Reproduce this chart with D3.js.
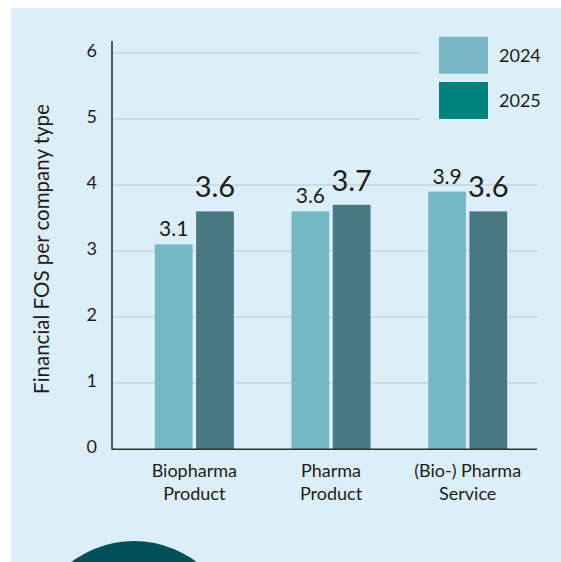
<!DOCTYPE html>
<html>
<head>
<meta charset="utf-8">
<script src="https://cdn.jsdelivr.net/npm/d3@7/dist/d3.min.js"></script>
<style>
  html, body { margin: 0; padding: 0; background: #ffffff; }
  svg { display: block; }
  text { font-family: Lato, "Source Sans Pro", "Noto Sans", sans-serif; fill: #1c1c1c; }
</style>
</head>
<body>
<svg id="chart" width="561" height="562"></svg>
<script>
// Company types (two-line labels) and yearly FOS values
const categories = [["Biopharma", "Product"], ["Pharma", "Product"], ["(Bio-) Pharma", "Service"]];
const years = ["2024", "2025"];
const values2024 = [3.1, 3.6, 3.9];
const values2025 = [3.6, 3.7, 3.6];
const yTicks = [0, 1, 2, 3, 4, 5, 6];
const yTitle = "Financial FOS per company type";

const colors = { "2024": "#76b7c5", "2025": "#497782" };
const legendColors = { "2024": "#78b8c6", "2025": "#00827f" };
const panelColor = "#dceff8";

const svg = d3.select("#chart");

// Background panel
svg.append("rect").attr("x", 11).attr("y", 8).attr("width", 550).attr("height", 554).attr("fill", panelColor);

// Decorative circle at the bottom
svg.append("circle").attr("cx", 134).attr("cy", 645).attr("r", 104).attr("fill", "#034f59");

const plotLeft = 112, plotRight = 537;
const y = d3.scaleLinear().domain([0, 6]).range([449, 53]);
const x0 = d3.scaleBand().domain(d3.range(categories.length)).range([126, 536]).paddingInner(0).paddingOuter(0);
const x1 = d3.scaleBand().domain(years).range([-39.5, 39.5]).paddingInner(0.085);

// Gridlines
svg.append("g").selectAll("line").data(yTicks.filter(d => d > 0)).join("line")
  .attr("x1", plotLeft).attr("x2", plotRight)
  .attr("y1", d => y(d)).attr("y2", d => y(d))
  .attr("stroke", "#c2d6e0").attr("stroke-width", 1.5);

// Legend (its backdrop hides the upper gridlines)
const legend = svg.append("g");
legend.append("rect").attr("x", 420).attr("y", 20).attr("width", 141).attr("height", 140).attr("fill", panelColor);
const legendY = d3.scalePoint().domain(years).range([36.7, 82]);
years.forEach(yr => {
  legend.append("rect").attr("x", 439).attr("y", legendY(yr)).attr("width", 49).attr("height", 37)
    .attr("fill", legendColors[yr]);
  legend.append("text").attr("x", 499).attr("y", legendY(yr) + 25.2)
    .style("font-size", "18px").text(yr);
});

// Bars
const rows = categories.map((c, i) => ({ i, vals: { "2024": values2024[i], "2025": values2025[i] } }));
const groups = svg.append("g").selectAll("g").data(rows).join("g")
  .attr("transform", d => `translate(${x0(d.i) + x0.bandwidth() / 2},0)`);

groups.selectAll("rect").data(d => years.map(yr => ({ yr, v: d.vals[yr] }))).join("rect")
  .attr("x", d => x1(d.yr)).attr("width", x1.bandwidth())
  .attr("y", d => y(d.v)).attr("height", d => y(0) - y(d.v))
  .attr("fill", d => colors[d.yr]);

// Value labels: 2024 smaller, 2025 larger
groups.selectAll("text.val").data(d => years.map(yr => ({ yr, v: d.vals[yr] }))).join("text")
  .attr("class", "val")
  .attr("x", d => x1(d.yr) + x1.bandwidth() / 2)
  .attr("y", d => y(d.v) - (d.yr === "2024" ? 8 : 14))
  .attr("text-anchor", "middle")
  .style("font-size", d => d.yr === "2024" ? "21px" : "29px")
  .text(d => d3.format(".1f")(d.v));

// Y axis
const yAxis = svg.append("g").attr("transform", `translate(${plotLeft},0)`)
  .call(d3.axisLeft(y).tickValues(yTicks).tickSize(0).tickPadding(15).tickFormat(d3.format("d")));
yAxis.select(".domain").remove();
yAxis.selectAll("text").style("font-size", "18px").attr("dy", "0.22em")
  .style("font-family", 'Lato, "Source Sans Pro", sans-serif').attr("fill", "#1c1c1c");
svg.append("line").attr("x1", plotLeft).attr("x2", plotLeft).attr("y1", 41).attr("y2", 449.5)
  .attr("stroke", "#2f3336").attr("stroke-width", 1.6);

// X axis baseline and category labels
svg.append("line").attr("x1", plotLeft).attr("x2", plotRight).attr("y1", 449.3).attr("y2", 449.3)
  .attr("stroke", "#2f3336").attr("stroke-width", 1.6);
const catLabels = svg.append("g").selectAll("text").data(rows).join("text")
  .attr("text-anchor", "middle")
  .attr("x", d => x0(d.i) + x0.bandwidth() / 2)
  .attr("y", 476.5)
  .style("font-size", "18px");
catLabels.selectAll("tspan").data(d => categories[d.i]).join("tspan")
  .attr("x", function () { return d3.select(this.parentNode).attr("x"); })
  .attr("dy", (d, k) => k === 0 ? 0 : 23)
  .text(d => d);

// Y axis title
svg.append("text").attr("transform", "translate(49,249) rotate(-90)")
  .attr("text-anchor", "middle").style("font-size", "20.5px").text(yTitle);
</script>
</body>
</html>
